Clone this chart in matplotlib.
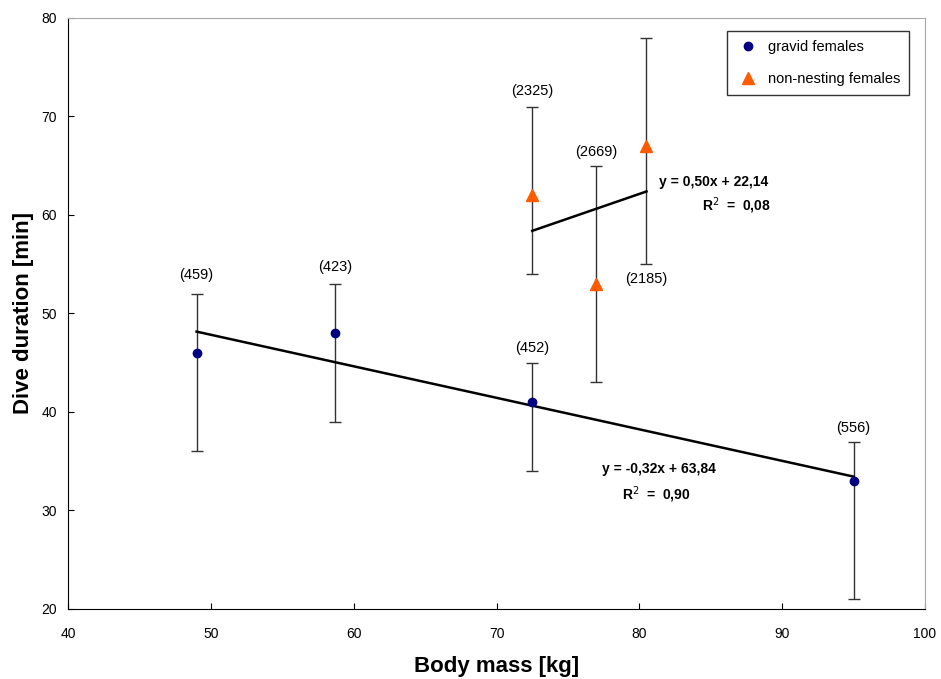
import numpy as np
import matplotlib
matplotlib.use("Agg")
import matplotlib.pyplot as plt

plt.rcParams['font.family'] = ['Liberation Sans', 'DejaVu Sans']

# gravid females
grav_mass = [49, 58.7, 72.5, 95]
grav_dive = [46, 48, 41, 33]
grav_low = [36, 39, 34, 21]
grav_high = [52, 53, 45, 37]
grav_n = ["(459)", "(423)", "(452)", "(556)"]
grav_n_y = [53.9, 54.7, 46.5, 38.4]

# non-nesting females
nn_mass = [72.5, 77, 80.5]
nn_dive = [62, 53, 67]
nn_low = [54, 43, 55]
nn_high = [71, 65, 78]
nn_n = ["(2325)", "(2669)", "(2185)"]
nn_n_y = [72.6, 66.4, 53.5]

# trendline coefficients (slope, intercept)
grav_fit = (-0.32, 63.84)
nn_fit = (0.50, 22.14)

fig = plt.figure(figsize=(9.41, 6.79), dpi=100)
ax = fig.add_axes([0.0723, 0.1031, 0.9107, 0.8704])

def errs(y, lo, hi):
    y = np.array(y); lo = np.array(lo); hi = np.array(hi)
    return [y - lo, hi - y]

ax.errorbar(grav_mass, grav_dive, yerr=errs(grav_dive, grav_low, grav_high),
            fmt='none', ecolor='#333333', elinewidth=1, capsize=4, capthick=1, zorder=2)
ax.errorbar(nn_mass, nn_dive, yerr=errs(nn_dive, nn_low, nn_high),
            fmt='none', ecolor='#333333', elinewidth=1, capsize=4, capthick=1, zorder=2)

gx = np.array([min(grav_mass), max(grav_mass)])
ax.plot(gx, grav_fit[0] * gx + grav_fit[1], color='black', lw=1.8, zorder=3)
nx = np.array([min(nn_mass), max(nn_mass)])
ax.plot(nx, nn_fit[0] * nx + nn_fit[1], color='black', lw=1.8, zorder=3)

ax.plot(grav_mass, grav_dive, 'o', color='#000080', ms=6, ls='none',
        label='gravid females', zorder=4)
ax.plot(nn_mass, nn_dive, '^', color='#ff5a00', ms=9, ls='none',
        label='non-nesting females', zorder=4)

for x, y, t in zip(grav_mass, grav_n_y, grav_n):
    ax.text(x, y, t, ha='center', va='center', fontsize=10.5)
for x, y, t in zip(nn_mass, nn_n_y, nn_n):
    ax.text(x, y, t, ha='center', va='center', fontsize=10.5)

eq_kw = dict(ha='center', va='center', fontsize=10, fontweight='bold')
ax.text(85.2, 63.35, "y = 0,50x + 22,14", **eq_kw)
ax.text(86.8, 60.9, "R$^2$  =  0,08", **eq_kw)
ax.text(81.4, 34.2, "y = -0,32x + 63,84", **eq_kw)
ax.text(81.2, 31.6, "R$^2$  =  0,90", **eq_kw)

ax.set_xlim(40, 100)
ax.set_ylim(20, 80)
ax.set_xticks(np.arange(40, 101, 10))
ax.set_yticks(np.arange(20, 81, 10))
ax.tick_params(direction='in', length=4, labelsize=10)
ax.tick_params(axis='x', pad=13)
ax.tick_params(axis='y', pad=8)
ax.spines['top'].set_color('#aaaaaa')
ax.spines['right'].set_color('#aaaaaa')

ax.set_xlabel("Body mass [kg]", fontsize=16, fontweight='bold', labelpad=11)
ax.set_ylabel("Dive duration [min]", fontsize=16, fontweight='bold', labelpad=5)

leg = ax.legend(loc='upper left', bbox_to_anchor=(0.761, 0.99), fontsize=10.5,
                frameon=True, fancybox=False, edgecolor='black',
                handlelength=1.6, handletextpad=0.6, labelspacing=1.25, borderpad=0.6)
leg.get_frame().set_linewidth(1)

fig.savefig("out.png", dpi=100)
plt.close(fig)
